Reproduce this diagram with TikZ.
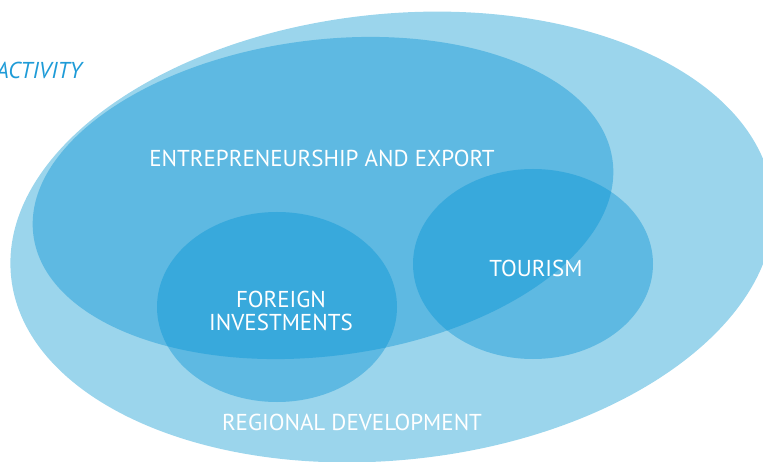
\documentclass[tikz,border=0pt]{standalone}
\usepackage{fontspec}
\setmainfont{PT Sans}
\usepackage{xcolor}
\definecolor{sky-300}{RGB}{155,213,236}
\definecolor{sky-400}{RGB}{94,185,226}
\definecolor{sky-500}{RGB}{56,169,220}
\definecolor{sky-600}{RGB}{30,155,215}
\usepackage{tikz}

\begin{document}
\begin{tikzpicture}[
    x=1pt, y=1pt,
    region label/.style={
        text=white,
        font=\fontsize{23}{23}\selectfont,
        align=center,
        inner sep=0pt
    },
    regional shape/.style={rotate around={6:(392,224)}},
    export shape/.style={rotate around={7.3:(323,263)}}
]
\useasboundingbox (0,0) rectangle (763,461);

% Regional development
\fill[sky-300, regional shape] (392,224) ellipse [x radius=383, y radius=223];

% Entrepreneurship, tourism, foreign investments
\fill[sky-400, export shape] (323,263) ellipse [x radius=292, y radius=158];
\fill[sky-400] (533,197) ellipse [x radius=120, y radius=95];
\fill[sky-400] (277,154) ellipse [x radius=120, y radius=95];

% Overlaps
\begin{scope}
    \clip[export shape] (323,263) ellipse [x radius=292, y radius=158];
    \fill[sky-500] (533,197) ellipse [x radius=120, y radius=95];
    \fill[sky-500] (277,154) ellipse [x radius=120, y radius=95];
\end{scope}

% Labels
\node[region label] (export) at (322,303) {ENTREPRENEURSHIP AND EXPORT};
\node[region label] (tourism) at (536,193) {TOURISM};
\node[region label] (foreign) at (281,150) {FOREIGN\\INVESTMENTS};
\node[region label] (regional) at (352,39) {REGIONAL DEVELOPMENT};

\begin{scope}
    \clip (0,0) rectangle (763,461);
    \node[region label, text=sky-600, font=\fontsize{23}{23}\selectfont\itshape,
          anchor=east] (activity) at (82,391) {ACTIVITY};
\end{scope}

\end{tikzpicture}
\end{document}
